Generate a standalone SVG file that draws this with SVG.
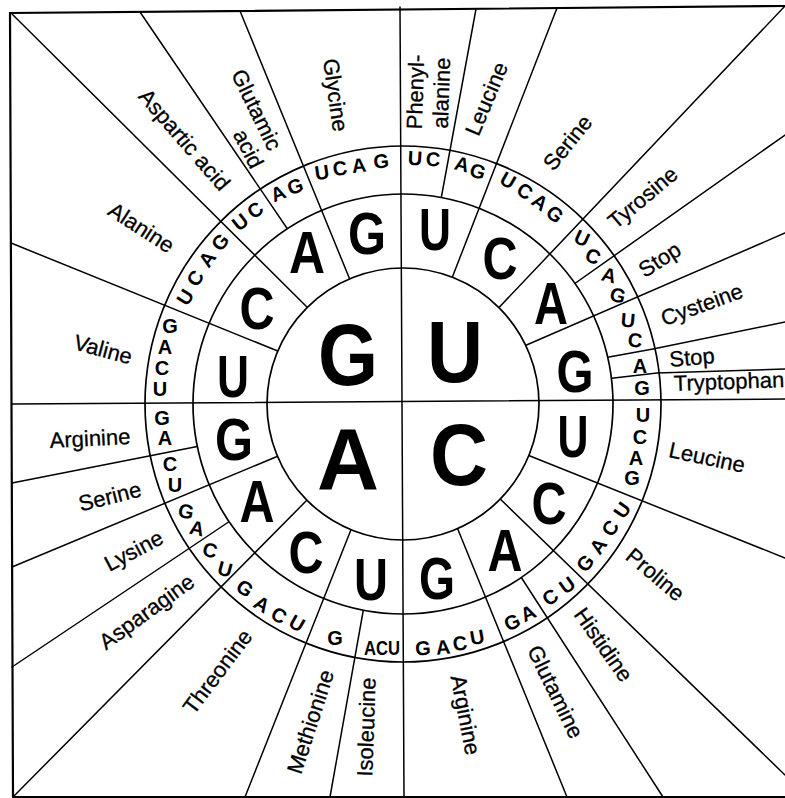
<svg xmlns="http://www.w3.org/2000/svg" width="785" height="798" viewBox="0 0 785 798">
<style>
.ln{stroke:#000;stroke-width:1.5;fill:none;stroke-linecap:round;stroke-linejoin:round}
.fr{stroke:#000;stroke-width:2.2;fill:none}
.disc{fill:#fff;stroke:#000;stroke-width:1.7}
.ring{fill:none;stroke:#000;stroke-width:1.7}
.c1{font-family:"Liberation Sans",Arial,Helvetica,sans-serif;font-weight:bold;font-size:88px;text-anchor:middle;fill:#000}
.c2{font-family:"Liberation Sans",Arial,Helvetica,sans-serif;font-weight:bold;font-size:60px;text-anchor:middle;fill:#000}
.r3{font-family:"Liberation Sans",Arial,Helvetica,sans-serif;font-weight:bold;font-size:20px;text-anchor:middle;fill:#000}
.lb{font-family:"Liberation Sans",Arial,Helvetica,sans-serif;font-size:22px;text-anchor:middle;fill:#000;stroke:#000;stroke-width:0.3}
</style>
<rect width="785" height="798" fill="#fff"/>
<g id="frame">
<polyline class="fr" points="785,6 10,13 13,797 785,797"/>
</g>
<g id="connectors">
<g id="third-ring-dividers">
<line class="ln" x1="439" y1="210" x2="476" y2="9"/>
<line class="ln" x1="560" y1="294" x2="785" y2="135"/>
<polyline class="ln" points="590,360 609,357 653,349 785,322"/>
<polyline class="ln" points="595,380 614,378 657,373 785,369"/>
<line class="ln" x1="510" y1="560" x2="663" y2="797"/>
<line class="ln" x1="366" y1="595" x2="330" y2="797"/>
<line class="ln" x1="245" y1="511" x2="12" y2="667"/>
<line class="ln" x1="215" y1="443" x2="12" y2="483"/>
<line class="ln" x1="297" y1="243" x2="140" y2="12"/>
</g>
<circle id="circle-2" class="disc" cx="403" cy="404" r="210"/>
<circle id="circle-3" class="ring" cx="403" cy="404" r="258"/>
<g id="second-ring-dividers">
<line class="ln" x1="445" y1="296" x2="557" y2="8"/>
<line class="ln" x1="490" y1="317" x2="785" y2="6"/>
<line class="ln" x1="515" y1="350" x2="785" y2="233"/>
<line class="ln" x1="510" y1="448" x2="785" y2="558"/>
<line class="ln" x1="495" y1="494" x2="785" y2="775"/>
<line class="ln" x1="450" y1="510" x2="567" y2="797"/>
<line class="ln" x1="358" y1="512" x2="245" y2="797"/>
<line class="ln" x1="313" y1="494" x2="14" y2="796"/>
<line class="ln" x1="295" y1="449" x2="12" y2="567"/>
<line class="ln" x1="295" y1="358" x2="11" y2="243"/>
<line class="ln" x1="313" y1="313" x2="12" y2="14"/>
<line class="ln" x1="355" y1="292" x2="240" y2="11"/>
</g>
<circle id="circle-1" class="disc" cx="403" cy="404" r="136"/>
<g id="cross">
<line class="ln" x1="400" y1="7" x2="404" y2="797"/>
<line class="ln" x1="12" y1="404" x2="785" y2="399"/>
</g>
</g>
<g id="first-base">
<text class="c1" x="348" y="384.5" textLength="60" lengthAdjust="spacingAndGlyphs">G</text>
<text class="c1" x="455" y="381.5" textLength="56" lengthAdjust="spacingAndGlyphs">U</text>
<text class="c1" x="348" y="488.5" textLength="62" lengthAdjust="spacingAndGlyphs">A</text>
<text class="c1" x="459" y="484.5" textLength="58" lengthAdjust="spacingAndGlyphs">C</text>
</g>
<g id="second-base">
<text class="c2" x="367" y="253.5" textLength="38" lengthAdjust="spacingAndGlyphs">G</text>
<text class="c2" x="307" y="272.5" textLength="36" lengthAdjust="spacingAndGlyphs">A</text>
<text class="c2" x="257" y="328.5" textLength="35" lengthAdjust="spacingAndGlyphs">C</text>
<text class="c2" x="233" y="396.5" textLength="32" lengthAdjust="spacingAndGlyphs">U</text>
<text class="c2" x="435" y="249.5" textLength="32" lengthAdjust="spacingAndGlyphs">U</text>
<text class="c2" x="500" y="278.5" textLength="35" lengthAdjust="spacingAndGlyphs">C</text>
<text class="c2" x="551" y="323.5" textLength="34" lengthAdjust="spacingAndGlyphs">A</text>
<text class="c2" x="575" y="391.5" textLength="37" lengthAdjust="spacingAndGlyphs">G</text>
<text class="c2" x="573" y="456.5" textLength="31" lengthAdjust="spacingAndGlyphs">U</text>
<text class="c2" x="549" y="523.5" textLength="35" lengthAdjust="spacingAndGlyphs">C</text>
<text class="c2" x="505" y="570.5" textLength="35" lengthAdjust="spacingAndGlyphs">A</text>
<text class="c2" x="437" y="598.5" textLength="36" lengthAdjust="spacingAndGlyphs">G</text>
<text class="c2" x="234" y="459.5" textLength="38" lengthAdjust="spacingAndGlyphs">G</text>
<text class="c2" x="257" y="521.5" textLength="35" lengthAdjust="spacingAndGlyphs">A</text>
<text class="c2" x="306" y="572.5" textLength="35" lengthAdjust="spacingAndGlyphs">C</text>
<text class="c2" x="371" y="599.5" textLength="34" lengthAdjust="spacingAndGlyphs">U</text>
</g>
<g id="third-base">
<text class="r3" transform="translate(415,158) rotate(3)" y="7.2">U</text>
<text class="r3" transform="translate(433,159) rotate(3)" y="7.2">C</text>
<text class="r3" transform="translate(462,164) rotate(15)" y="7.2">A</text>
<text class="r3" transform="translate(478,171) rotate(18)" y="7.2">G</text>
<text class="r3" transform="translate(508,180) rotate(30)" y="7.2">U</text>
<text class="r3" transform="translate(525,191) rotate(33)" y="7.2">C</text>
<text class="r3" transform="translate(540,202) rotate(36)" y="7.2">A</text>
<text class="r3" transform="translate(555,214) rotate(40)" y="7.2">G</text>
<text class="r3" transform="translate(582,238) rotate(25)" y="7.2">U</text>
<text class="r3" transform="translate(593,256) rotate(25)" y="7.2">C</text>
<text class="r3" transform="translate(609,275) rotate(15)" y="7.2">A</text>
<text class="r3" transform="translate(618,295) rotate(15)" y="7.2">G</text>
<text class="r3" transform="translate(628,320) rotate(5)" y="7.2">U</text>
<text class="r3" transform="translate(635,340) rotate(5)" y="7.2">C</text>
<text class="r3" transform="translate(640,366)" y="7.2">A</text>
<text class="r3" transform="translate(642,388)" y="7.2">G</text>
<text class="r3" transform="translate(643,415)" y="7.2">U</text>
<text class="r3" transform="translate(640,437)" y="7.2">C</text>
<text class="r3" transform="translate(636,458)" y="7.2">A</text>
<text class="r3" transform="translate(632,478)" y="7.2">G</text>
<text class="r3" transform="translate(622,510) rotate(-55)" y="7.2">U</text>
<text class="r3" transform="translate(610,528) rotate(-55)" y="7.2">C</text>
<text class="r3" transform="translate(598,546) rotate(-55)" y="7.2">A</text>
<text class="r3" transform="translate(585,563) rotate(-50)" y="7.2">G</text>
<text class="r3" transform="translate(567,585) rotate(-35)" y="7.2">U</text>
<text class="r3" transform="translate(550,597) rotate(-35)" y="7.2">C</text>
<text class="r3" transform="translate(528,613) rotate(-25)" y="7.2">A</text>
<text class="r3" transform="translate(512,622) rotate(-25)" y="7.2">G</text>
<text class="r3" transform="translate(477,637) rotate(-10)" y="7.2">U</text>
<text class="r3" transform="translate(460,643) rotate(-8)" y="7.2">C</text>
<text class="r3" transform="translate(443,647) rotate(-5)" y="7.2">A</text>
<text class="r3" transform="translate(423,648) rotate(-3)" y="7.2">G</text>
<text class="r3" transform="translate(382,648)" y="7.2" textLength="36" lengthAdjust="spacingAndGlyphs">ACU</text>
<text class="r3" transform="translate(335,638)" y="7.2">G</text>
<text class="r3" transform="translate(297,623) rotate(30)" y="7.2">U</text>
<text class="r3" transform="translate(279,615) rotate(30)" y="7.2">C</text>
<text class="r3" transform="translate(262,604) rotate(32)" y="7.2">A</text>
<text class="r3" transform="translate(245,588) rotate(35)" y="7.2">G</text>
<text class="r3" transform="translate(225,569) rotate(15)" y="7.2">U</text>
<text class="r3" transform="translate(210,550) rotate(15)" y="7.2">C</text>
<text class="r3" transform="translate(197,528) rotate(12)" y="7.2">A</text>
<text class="r3" transform="translate(186,511) rotate(12)" y="7.2">G</text>
<text class="r3" transform="translate(175,485)" y="7.2">U</text>
<text class="r3" transform="translate(170,464)" y="7.2">C</text>
<text class="r3" transform="translate(165,438)" y="7.2">A</text>
<text class="r3" transform="translate(162,418)" y="7.2">G</text>
<text class="r3" transform="translate(160,389)" y="7.2">U</text>
<text class="r3" transform="translate(162,368)" y="7.2">C</text>
<text class="r3" transform="translate(165,347)" y="7.2">A</text>
<text class="r3" transform="translate(170,326)" y="7.2">G</text>
<text class="r3" transform="translate(185,297) rotate(-58)" y="7.2">U</text>
<text class="r3" transform="translate(195,278) rotate(-58)" y="7.2">C</text>
<text class="r3" transform="translate(207,259) rotate(-55)" y="7.2">A</text>
<text class="r3" transform="translate(220,242) rotate(-50)" y="7.2">G</text>
<text class="r3" transform="translate(240,222) rotate(-38)" y="7.2">U</text>
<text class="r3" transform="translate(255,210) rotate(-38)" y="7.2">C</text>
<text class="r3" transform="translate(278,193) rotate(-22)" y="7.2">A</text>
<text class="r3" transform="translate(295,186) rotate(-20)" y="7.2">G</text>
<text class="r3" transform="translate(322,172) rotate(-8)" y="7.2">U</text>
<text class="r3" transform="translate(340,168) rotate(-8)" y="7.2">C</text>
<text class="r3" transform="translate(359,165) rotate(-6)" y="7.2">A</text>
<text class="r3" transform="translate(381,161) rotate(-5)" y="7.2">G</text>
</g>
<g id="amino-acids">
<text class="lb" transform="translate(416,92) rotate(-88)" y="7">Phenyl-</text>
<text class="lb" transform="translate(442,93) rotate(-88)" y="7">alanine</text>
<text class="lb" transform="translate(487,99) rotate(-67)" y="7">Leucine</text>
<text class="lb" transform="translate(568,143) rotate(-51)" y="7">Serine</text>
<text class="lb" transform="translate(643,198) rotate(-40)" y="7">Tyrosine</text>
<text class="lb" transform="translate(660,260) rotate(-33)" y="7">Stop</text>
<text class="lb" transform="translate(702,305) rotate(-20)" y="7">Cysteine</text>
<text class="lb" transform="translate(692,358) rotate(-5)" y="7">Stop</text>
<text class="lb" transform="translate(729,382) rotate(-2)" y="7">Tryptophan</text>
<text class="lb" transform="translate(707,458) rotate(12)" y="7">Leucine</text>
<text class="lb" transform="translate(655,575) rotate(40)" y="7">Proline</text>
<text class="lb" transform="translate(603,645) rotate(55)" y="7">Histidine</text>
<text class="lb" transform="translate(555,692) rotate(64)" y="7">Glutamine</text>
<text class="lb" transform="translate(465,715) rotate(79)" y="7">Arginine</text>
<text class="lb" transform="translate(367,727) rotate(-88)" y="7">Isoleucine</text>
<text class="lb" transform="translate(311,722) rotate(-72)" y="7">Methionine</text>
<text class="lb" transform="translate(218,672) rotate(-53)" y="7">Threonine</text>
<text class="lb" transform="translate(147,612) rotate(-36)" y="7">Asparagine</text>
<text class="lb" transform="translate(134,551) rotate(-28)" y="7">Lysine</text>
<text class="lb" transform="translate(110,497) rotate(-14)" y="7">Serine</text>
<text class="lb" transform="translate(90,439) rotate(-3)" y="7">Arginine</text>
<text class="lb" transform="translate(103,350) rotate(15)" y="7">Valine</text>
<text class="lb" transform="translate(141,228) rotate(33)" y="7">Alanine</text>
<text class="lb" transform="translate(184,140) rotate(49)" y="7">Aspartic acid</text>
<text class="lb" transform="translate(256,110) rotate(64)" y="7">Glutamic</text>
<text class="lb" transform="translate(248,149) rotate(63)" y="7">acid</text>
<text class="lb" transform="translate(335,95) rotate(82)" y="7">Glycine</text>
</g>
</svg>
